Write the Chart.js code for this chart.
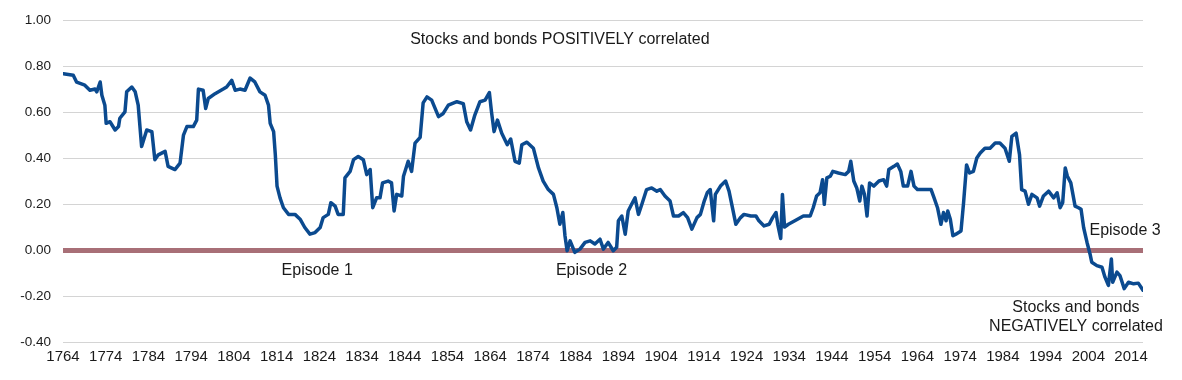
<!DOCTYPE html>
<html>
<head>
<meta charset="utf-8">
<script src="https://cdn.jsdelivr.net/npm/chart.js@4.4.1/dist/chart.umd.min.js"></script>
<style>
  body { margin: 0; background: #fff; }
  #wrap { width: 1182px; height: 380px; }
</style>
</head>
<body>
<div id="wrap"><canvas id="grafico"></canvas></div>
<script>
// anos (eixo x) e correlacao acoes/titulos (eixo y)
const years = [
  1764.1, 1766.4, 1767.2, 1769.1, 1770.3, 1771.5, 1771.9, 1772.7, 1773.1, 1773.8,
  1774.1, 1775.0, 1776.2, 1777.0, 1777.3, 1778.5, 1778.9, 1780.1, 1780.9, 1781.6,
  1782.4, 1783.6, 1784.8, 1785.5, 1786.3, 1787.9, 1788.6, 1790.2, 1791.4, 1792.2,
  1793.0, 1794.5, 1795.3, 1795.7, 1796.8, 1797.4, 1798.0, 1799.6, 1801.5, 1802.3,
  1803.5, 1804.3, 1805.4, 1806.6, 1807.8, 1808.9, 1810.1, 1811.3, 1812.1, 1812.5,
  1813.3, 1813.7, 1814.1, 1814.8, 1815.6, 1816.8, 1818.3, 1819.5, 1820.6, 1821.8,
  1823.0, 1824.2, 1824.9, 1826.1, 1826.7, 1827.7, 1828.4, 1829.6, 1830.0, 1831.2,
  1832.0, 1833.1, 1834.3, 1835.1, 1835.9, 1836.5, 1837.4, 1838.2, 1838.8, 1840.1,
  1840.9, 1841.5, 1842.1, 1843.3, 1843.7, 1844.8, 1845.6, 1846.4, 1847.6, 1848.3,
  1849.2, 1850.3, 1851.9, 1853.0, 1854.2, 1856.2, 1857.7, 1858.5, 1859.4, 1860.4,
  1861.6, 1862.8, 1863.8, 1864.3, 1864.9, 1865.7, 1866.7, 1868.0, 1868.8, 1869.8,
  1870.8, 1871.4, 1872.6, 1874.1, 1875.3, 1876.4, 1877.6, 1878.8, 1879.6, 1880.3,
  1881.0, 1881.5, 1882.0, 1882.7, 1883.8, 1885.0, 1886.2, 1887.4, 1888.5, 1889.7,
  1890.5, 1891.6, 1892.8, 1893.6, 1894.0, 1894.8, 1895.6, 1896.3, 1897.1, 1897.9,
  1898.7, 1899.5, 1900.6, 1901.8, 1903.0, 1903.8, 1904.9, 1906.1, 1906.9, 1908.1,
  1909.2, 1910.2, 1911.2, 1912.4, 1913.2, 1914.1, 1914.8, 1915.5, 1916.3, 1916.7,
  1917.9, 1919.1, 1919.9, 1920.7, 1921.5, 1922.6, 1923.4, 1925.0, 1926.2, 1926.9,
  1928.1, 1929.3, 1930.1, 1930.9, 1931.3, 1932.0, 1932.4, 1932.9, 1933.8, 1935.3,
  1937.3, 1938.9, 1939.6, 1940.4, 1941.2, 1941.8, 1942.2, 1942.8, 1943.6, 1944.2,
  1945.5, 1947.1, 1947.9, 1948.4, 1949.1, 1949.8, 1950.5, 1951.0, 1951.6, 1952.2,
  1952.8, 1953.8, 1955.0, 1956.1, 1956.8, 1957.3, 1958.5, 1959.3, 1960.1, 1960.7,
  1961.7, 1962.5, 1963.2, 1964.0, 1965.6, 1967.2, 1967.9, 1968.7, 1969.5, 1970.1,
  1970.7, 1971.1, 1971.7, 1972.3, 1973.0, 1974.2, 1974.8, 1975.5, 1976.2, 1977.1,
  1977.9, 1978.7, 1979.8, 1981.0, 1982.2, 1983.3, 1984.5, 1985.5, 1986.1, 1987.1,
  1987.9, 1988.4, 1989.2, 1990.0, 1990.8, 1992.0, 1992.6, 1993.5, 1994.7, 1995.9,
  1996.7, 1997.4, 1998.0, 1998.6, 1999.1, 1999.9, 2000.9, 2001.7, 2002.3, 2002.9,
  2003.7, 2004.4, 2004.8, 2006.0, 2007.2, 2007.9, 2008.7, 2009.4, 2009.7, 2010.7,
  2011.4, 2012.4, 2013.4, 2014.6, 2015.7, 2016.8
];

const correlation = [
  0.767, 0.760, 0.730, 0.717, 0.695, 0.700, 0.688, 0.731, 0.673, 0.630,
  0.551, 0.558, 0.522, 0.537, 0.573, 0.601, 0.688, 0.709, 0.688, 0.630,
  0.450, 0.522, 0.515, 0.393, 0.414, 0.429, 0.364, 0.350, 0.378, 0.500,
  0.537, 0.537, 0.565, 0.700, 0.695, 0.616, 0.659, 0.680, 0.700, 0.709,
  0.738, 0.695, 0.700, 0.695, 0.748, 0.731, 0.688, 0.673, 0.630, 0.551,
  0.515, 0.414, 0.278, 0.227, 0.184, 0.155, 0.155, 0.134, 0.098, 0.069,
  0.076, 0.098, 0.141, 0.155, 0.206, 0.191, 0.155, 0.155, 0.314, 0.342,
  0.393, 0.407, 0.393, 0.328, 0.350, 0.184, 0.227, 0.227, 0.292, 0.300,
  0.292, 0.170, 0.242, 0.235, 0.321, 0.386, 0.342, 0.465, 0.490, 0.640,
  0.666, 0.652, 0.580, 0.594, 0.630, 0.645, 0.637, 0.558, 0.522, 0.587,
  0.645, 0.652, 0.685, 0.601, 0.515, 0.565, 0.508, 0.458, 0.483, 0.386,
  0.378, 0.458, 0.469, 0.443, 0.357, 0.300, 0.263, 0.242, 0.184, 0.112,
  0.163, 0.062, -0.003, 0.040, -0.010, 0.004, 0.033, 0.040, 0.026, 0.047,
  0.004, 0.033, -0.003, 0.012, 0.127, 0.148, 0.069, 0.170, 0.199, 0.227,
  0.155, 0.199, 0.263, 0.270, 0.256, 0.263, 0.235, 0.213, 0.148, 0.148,
  0.163, 0.141, 0.091, 0.141, 0.155, 0.213, 0.249, 0.263, 0.127, 0.242,
  0.278, 0.300, 0.256, 0.184, 0.112, 0.141, 0.155, 0.148, 0.148, 0.127,
  0.105, 0.112, 0.141, 0.163, 0.112, 0.050, 0.242, 0.100, 0.112, 0.127,
  0.148, 0.148, 0.184, 0.235, 0.249, 0.306, 0.199, 0.314, 0.321, 0.342,
  0.335, 0.328, 0.342, 0.386, 0.300, 0.270, 0.213, 0.278, 0.242, 0.148,
  0.292, 0.278, 0.300, 0.306, 0.278, 0.350, 0.364, 0.374, 0.342, 0.278,
  0.278, 0.342, 0.278, 0.263, 0.263, 0.263, 0.227, 0.184, 0.112, 0.163,
  0.127, 0.170, 0.134, 0.062, 0.069, 0.083, 0.205, 0.370, 0.335, 0.342,
  0.400, 0.422, 0.443, 0.443, 0.465, 0.465, 0.443, 0.386, 0.494, 0.508,
  0.414, 0.263, 0.256, 0.199, 0.242, 0.227, 0.191, 0.235, 0.256, 0.227,
  0.249, 0.184, 0.206, 0.357, 0.321, 0.292, 0.191, 0.184, 0.177, 0.098,
  0.033, -0.017, -0.053, -0.068, -0.075, -0.118, -0.154, -0.039, -0.140, -0.096,
  -0.111, -0.168, -0.140, -0.147, -0.144, -0.175
];

const tickYears = [1764, 1774, 1784, 1794, 1804, 1814, 1824, 1834, 1844, 1854, 1864,
  1874, 1884, 1894, 1904, 1914, 1924, 1934, 1944, 1954, 1964, 1974, 1984, 1994, 2004, 2014];

// textos do grafico (ano, valor)
const notes = [
  { text: 'Stocks and bonds POSITIVELY correlated', year: 1880.3, value: 0.916 },
  { text: 'Episode 1', year: 1823.5, value: -0.091 },
  { text: 'Episode 2', year: 1887.7, value: -0.091 },
  { text: 'Episode 3', year: 2012.6, value: 0.086 },
  { text: 'Stocks and bonds', year: 2001.1, value: -0.25 },
  { text: 'NEGATIVELY correlated', year: 2001.1, value: -0.331 }
];

const fonte = '"Liberation Sans", Arial, Helvetica, sans-serif';

const notesPlugin = {
  id: 'notes',
  afterDraw(chart) {
    const ctx = chart.ctx;
    const x = chart.scales.x, y = chart.scales.y;
    ctx.save();
    ctx.font = '16px ' + fonte;
    ctx.fillStyle = '#1a1a1a';
    ctx.textAlign = 'center';
    ctx.textBaseline = 'middle';
    notes.forEach(n => {
      ctx.fillText(n.text, x.getPixelForValue(n.year), y.getPixelForValue(n.value));
    });
    ctx.restore();
  }
};

let grafico = document.getElementById('grafico').getContext('2d');

let chart = new Chart(grafico, {
  type: 'line',
  data: {
    datasets: [
      {
        label: 'Correlation',
        data: years.map((ano, i) => ({ x: ano, y: correlation[i] })),
        borderColor: '#0b4a8f',
        borderWidth: 3.5,
        pointRadius: 0,
        tension: 0,
        borderJoinStyle: 'round',
        borderCapStyle: 'round',
        fill: false
      }
    ]
  },
  options: {
    responsive: true,
    maintainAspectRatio: false,
    animation: false,
    layout: { padding: { top: 18, right: 39, left: 0, bottom: 0 } },
    plugins: {
      legend: { display: false },
      tooltip: { enabled: false }
    },
    scales: {
      x: {
        type: 'linear',
        min: 1764,
        max: 2016.8,
        afterBuildTicks: scale => { scale.ticks = tickYears.map(v => ({ value: v })); },
        afterFit: scale => { scale.height = 38; },
        grid: { display: false, drawTicks: false },
        border: { display: false },
        ticks: {
          autoSkip: false,
          maxRotation: 0,
          padding: 6,
          color: '#1a1a1a',
          font: { family: fonte, size: 15 },
          callback: v => String(v)
        }
      },
      y: {
        min: -0.4,
        max: 1.0,
        afterFit: scale => { scale.width = 63; },
        grid: {
          drawTicks: false,
          color: c => Math.abs(c.tick.value) < 1e-9 ? '#a86f77' : '#d4d4d4',
          lineWidth: c => Math.abs(c.tick.value) < 1e-9 ? 5 : 1
        },
        border: { display: false },
        ticks: {
          stepSize: 0.2,
          padding: 12,
          color: '#1a1a1a',
          font: { family: fonte, size: 13.5 },
          callback: v => Math.abs(v) < 1e-9 ? '0.00' : Number(v).toFixed(2)
        }
      }
    }
  },
  plugins: [notesPlugin]
});
</script>
</body>
</html>
